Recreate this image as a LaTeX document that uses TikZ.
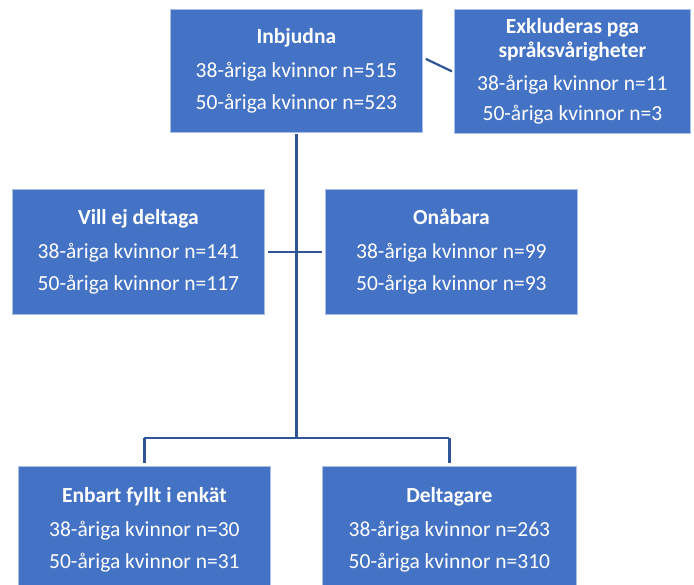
\documentclass[tikz,border=0pt]{standalone}
\usepackage{fontspec}
\setmainfont{Carlito}
\definecolor{boxblue}{HTML}{4472C4}
\definecolor{linkblue}{HTML}{2F5597}
\definecolor{edgeblue}{HTML}{A9C0E6}
\begin{document}
\begin{tikzpicture}[x=1pt,y=-1pt,
  box/.style={draw=edgeblue, line width=0.8pt, fill=boxblue, text=white,
    align=center, inner sep=0pt, anchor=north west,
    font=\fontsize{21.5}{32}\selectfont},
  link/.style={draw=linkblue, line width=2.2pt}]
\useasboundingbox (0,0) rectangle (694,585);
\node[box, minimum width=252pt, minimum height=123pt] (inb) at (170,9)
  {{\bfseries Inbjudna}\\[2pt] 38-åriga kvinnor n=515\\ 50-åriga kvinnor n=523};
\node[box, minimum width=236pt, minimum height=124pt] (exk) at (454,9)
  {{\bfseries Exkluderas pga}\\[-8pt]{\bfseries språksvårigheter}\\[1pt] 38-åriga kvinnor n=11\\[-2pt] 50-åriga kvinnor n=3};
\node[box, minimum width=252pt, minimum height=125pt] (vill) at (12,189)
  {{\bfseries Vill ej deltaga}\\[2pt] 38-åriga kvinnor n=141\\ 50-åriga kvinnor n=117};
\node[box, minimum width=252pt, minimum height=125pt] (ona) at (325,189)
  {{\bfseries Onåbara}\\[2pt] 38-åriga kvinnor n=99\\ 50-åriga kvinnor n=93};
\node[box, minimum width=252pt, minimum height=127pt] (enb) at (18,466)
  {{\bfseries Enbart fyllt i enkät}\\[2pt] 38-åriga kvinnor n=30\\ 50-åriga kvinnor n=31};
\node[box, minimum width=254pt, minimum height=127pt] (del) at (322,466)
  {{\bfseries Deltagare}\\[2pt] 38-åriga kvinnor n=263\\ 50-åriga kvinnor n=310};
\coordinate (junc) at (296,438);
\draw[link] ([yshift=-1pt]inb.south) -- (inb.south |- junc);
\draw[link] (enb.north |- junc) -- (del.north |- junc);
\draw[link] (enb.north |- junc) -- ([yshift=3pt]enb.north);
\draw[link] (del.north |- junc) -- ([yshift=3pt]del.north);
\draw[link] ([xshift=3pt]vill.east) -- ([xshift=-3pt]ona.west);
\draw[link] ([xshift=3pt,yshift=12pt]inb.east) -- ([xshift=-2pt]exk.west);
\end{tikzpicture}
\end{document}
